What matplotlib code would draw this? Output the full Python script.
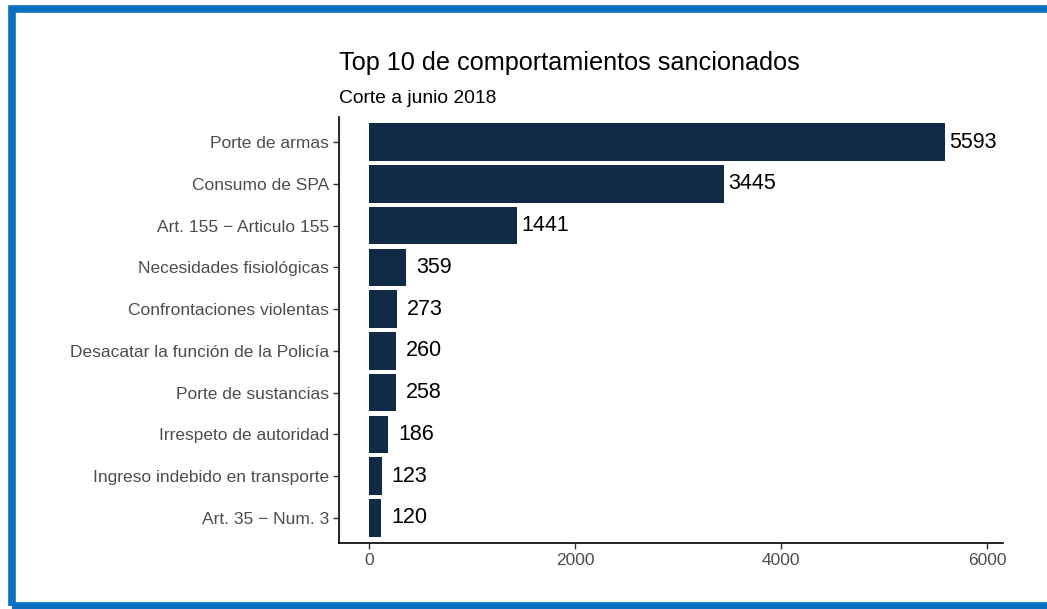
import matplotlib
matplotlib.use("Agg")
import matplotlib.pyplot as plt
from matplotlib.patches import Rectangle

# === DATA ===
behaviours = ["Porte de armas", "Consumo de SPA", "Art. 155 \u2212 Articulo 155",
              "Necesidades fisiológicas", "Confrontaciones violentas",
              "Desacatar la función de la Policía", "Porte de sustancias",
              "Irrespeto de autoridad", "Ingreso indebido en transporte",
              "Art. 35 \u2212 Num. 3"]
counts = [5593, 3445, 1441, 359, 273, 260, 258, 186, 123, 120]
x_ticks = [0, 2000, 4000, 6000]

title = "Top 10 de comportamientos sancionados"
subtitle = "Corte a junio 2018"

bar_color = "#112A46"
plt.rcParams["font.family"] = ["Liberation Sans", "DejaVu Sans"]

fig = plt.figure(figsize=(10.47, 6.09), dpi=100)
W, H = 1047, 609

# blue frame of the screenshot
fig.patches.append(Rectangle((12 / W, 3 / H), 1.05, 1 - 12 / H, transform=fig.transFigure,
                             fill=False, edgecolor="#0A70C0", linewidth=5.5))

ax = fig.add_axes([339 / W, 1 - 543 / H, (1003 - 339) / W, (543 - 117) / H])

pos = list(range(len(behaviours)))
ax.barh(pos, counts, height=0.9, color=bar_color)
for p, c in zip(pos, counts):
    ax.text(c + 272, p, str(c), ha="center", va="center", fontsize=15.5, color="black")

ax.set_yticks(pos)
ax.set_yticklabels(behaviours, fontsize=12.5, color="#4D4D4D")
ax.set_xticks(x_ticks)
ax.set_xticklabels([str(t) for t in x_ticks], fontsize=12.5, color="#4D4D4D")
ax.set_xlim(-291, 6155)
ax.set_ylim(len(behaviours) - 0.4, -0.6)

for side in ["top", "right"]:
    ax.spines[side].set_visible(False)
for side in ["left", "bottom"]:
    ax.spines[side].set_linewidth(1.2)
ax.tick_params(axis="both", length=4, width=1, color="#333333", pad=3)

fig.text(339 / W, 1 - 70 / H, title, fontsize=18.2, ha="left", va="baseline")
fig.text(339 / W, 1 - 103 / H, subtitle, fontsize=13.9, ha="left", va="baseline")

fig.savefig("out.png", dpi=100)
